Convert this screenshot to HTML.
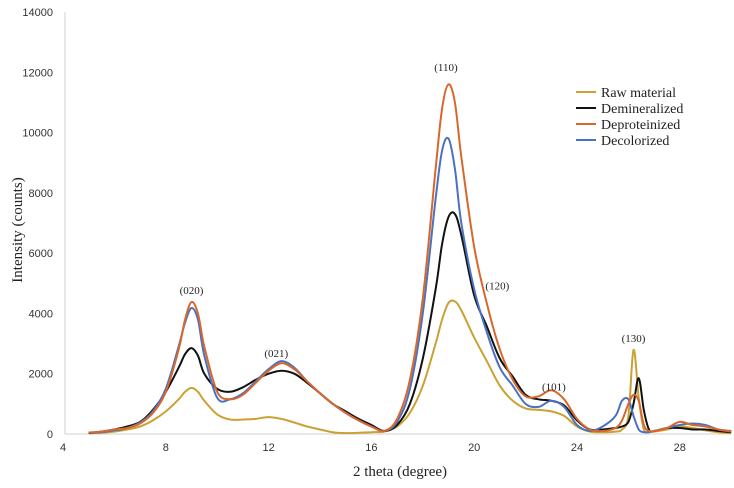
<!DOCTYPE html>
<html><head><meta charset="utf-8"><style>
body{margin:0;background:#fff}
svg{display:block}
.t{font-family:"Liberation Sans",sans-serif;font-size:11px;fill:#333}
.s{font-family:"Liberation Serif",serif;fill:#222}
</style></head><body>
<svg id="chart" width="734" height="488" viewBox="0 0 734 488">
<g id="axes"></g><g id="series"></g><g id="labels"></g>
<text class="s" x="400" y="476" font-size="15" text-anchor="middle">2 theta (degree)</text>
<text class="s" x="22" y="230" font-size="15" text-anchor="middle" transform="rotate(-90 22 230)">Intensity (counts)</text>
<g id="legend"></g>
</svg>
<script>
const xs=[5,5.5,6,6.5,7,7.5,8,8.5,8.75,9,9.25,9.5,10,10.5,11,11.5,12,12.5,13,13.5,14,14.5,15,15.5,16,16.5,17,17.5,18,18.5,18.75,19,19.25,19.5,20,20.5,21,21.5,22,22.5,23,23.5,24,24.5,25,25.5,25.75,26,26.2,26.4,26.6,26.8,27,27.5,28,28.5,29,29.5,30];
const rawMaterial=[20,40,80,150,250,450,750,1150,1400,1530,1400,1100,650,480,480,500,560,500,380,250,150,60,30,40,60,80,250,700,1600,3000,3800,4350,4400,4100,3200,2400,1600,1100,850,800,750,600,250,80,60,80,150,600,2790,1200,150,80,80,150,250,200,120,60,30];
const demineralized=[30,80,150,250,400,800,1400,2200,2650,2850,2600,2000,1500,1400,1550,1800,2000,2100,2000,1700,1350,1000,750,500,300,100,300,1000,2500,4800,6300,7200,7300,6600,4600,3550,2500,1900,1300,1150,1100,950,450,150,150,200,250,400,1000,1850,800,150,100,200,200,150,150,100,60];
const deproteinized=[50,80,150,200,350,700,1400,2800,3800,4380,4000,2900,1400,1150,1300,1700,2100,2350,2150,1750,1350,1000,700,450,250,100,500,1800,4500,8800,10800,11600,11000,9200,6200,4300,2800,1800,1250,1250,1450,1150,500,150,100,200,450,1000,1300,1100,300,100,100,200,400,300,250,150,80];
const decolorized=[40,60,120,200,380,750,1500,2900,3700,4180,3800,2600,1200,1150,1350,1750,2150,2420,2200,1750,1350,1000,700,450,250,100,400,1500,4000,7800,9400,9800,8800,7000,4800,3350,2200,1600,1000,900,1100,900,300,100,250,600,1100,1150,600,150,60,60,100,200,300,350,300,150,100];
const seriesNames=["Raw material","Demineralized","Deproteinized","Decolorized"];
const seriesColors=["#c9a233","#111111","#d8672b","#4a72c0"];
const yTicks=[0,2000,4000,6000,8000,10000,12000,14000];
const xTicks=[4,8,12,16,20,24,28];
const peakLabels=["(020)","(021)","(110)","(120)","(101)","(130)"];
const peakX=[9,12.3,18.9,20.9,23.1,26.2];
const peakY=[4650,2550,12050,4800,1450,3050];

const NS="http://www.w3.org/2000/svg";
const X=v=>63+(v-4)*25.7, Y=v=>434-v*0.03014;
function mk(tag,attrs,parent){const e=document.createElementNS(NS,tag);for(const k in attrs)e.setAttribute(k,attrs[k]);parent.appendChild(e);return e;}
const axes=document.getElementById('axes');
let ya=mk('line',{x1:65,y1:12,x2:65,y2:434,stroke:'#d0d0d0'},axes);


let xa=mk('line',{x1:65,y1:434,x2:731,y2:434,stroke:'#d0d0d0'},axes);


yTicks.forEach(v=>{const t=mk('text',{x:53,y:Y(v)+4,class:'t','text-anchor':'end'},axes);t.textContent=v;

});
xTicks.forEach(v=>{const t=mk('text',{x:X(v),y:451,class:'t','text-anchor':'middle'},axes);t.textContent=v;

});
function path(ys){const p=xs.map((x,i)=>[X(x),Y(ys[i])]);let d='M'+p[0][0]+','+p[0][1];
for(let i=0;i<p.length-1;i++){const p0=p[i-1]||p[i],p1=p[i],p2=p[i+1],p3=p[i+2]||p2;
const c1=[p1[0]+(p2[0]-p0[0])/6,p1[1]+(p2[1]-p0[1])/6],c2=[p2[0]-(p3[0]-p1[0])/6,p2[1]-(p3[1]-p1[1])/6];
d+=`C${c1[0].toFixed(1)},${Math.min(434,c1[1]).toFixed(1)} ${c2[0].toFixed(1)},${Math.min(434,c2[1]).toFixed(1)} ${p2[0].toFixed(1)},${p2[1].toFixed(1)}`;}return d;}
const sg=document.getElementById('series');
const all=[rawMaterial,demineralized,deproteinized,decolorized];
const keys=['raw-material','demineralized','deproteinized','decolorized'];
[0,1,3,2].forEach(i=>{const e=mk('path',{d:path(all[i]),fill:'none',stroke:seriesColors[i],'stroke-width':2,'stroke-linejoin':'round'},sg);

});
const lg=document.getElementById('labels');
peakLabels.forEach((s,i)=>{const t=mk('text',{x:X(peakX[i]),y:Y(peakY[i]),class:'s','font-size':11,'text-anchor':'middle'},lg);t.textContent=s;

});
const leg=document.getElementById('legend');
seriesNames.forEach((n,i)=>{const y=92+i*16;
const l=mk('line',{x1:576,y1:y,x2:596,y2:y,stroke:seriesColors[i],'stroke-width':2},leg);


const t=mk('text',{x:601,y:y+5,class:'s','font-size':14},leg);t.textContent=n;

});
</script>
</body></html>
